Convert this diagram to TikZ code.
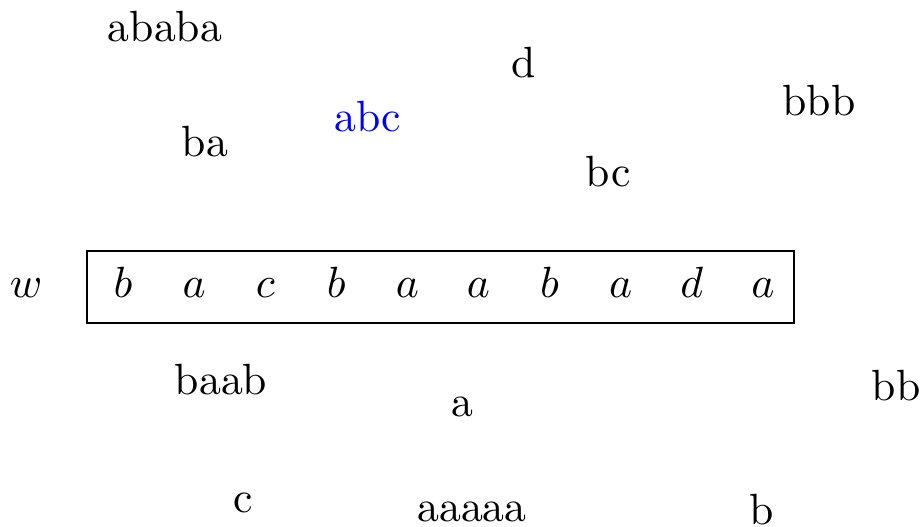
\documentclass[tikz,border=0pt]{standalone}
\begin{document}
\begin{tikzpicture}[x=0.00804cm,y=-0.00804cm,
  lbl/.style={inner sep=0pt},
  sym/.style={inner sep=0pt, anchor=base}]
\useasboundingbox (0,0) rectangle (924,527);
\node[lbl] (t1) at (165,27) {ababa};
\node[lbl] (t2) at (524,63) {d};
\node[lbl] (t3) at (819,101) {bbb};
\node[lbl,text=blue] (t4) at (368,117) {abc};
\node[lbl] (t5) at (205,142) {ba};
\node[lbl] (t6) at (608,172) {bc};
\node[lbl] (w) at (26,288) {$w$};
\node[draw, minimum width=707*0.00804cm, minimum height=72*0.00804cm, inner sep=0pt] (box) at (440.5,287) {};
\foreach \c [count=\i] in {b,a,c,b,a,a,b,a,d,a}{
  \node[sym] (s\i) at ({123+(\i-1)*71.1},298) {$\c$};
}
\node[lbl] (t7) at (221,380) {baab};
\node[lbl] (t8) at (462,407) {a};
\node[lbl] (t9) at (896,386) {bb};
\node[lbl] (t10) at (243,503) {c};
\node[lbl] (t11) at (472,512) {aaaaa};
\node[lbl] (t12) at (762,510) {b};
\end{tikzpicture}
\end{document}
